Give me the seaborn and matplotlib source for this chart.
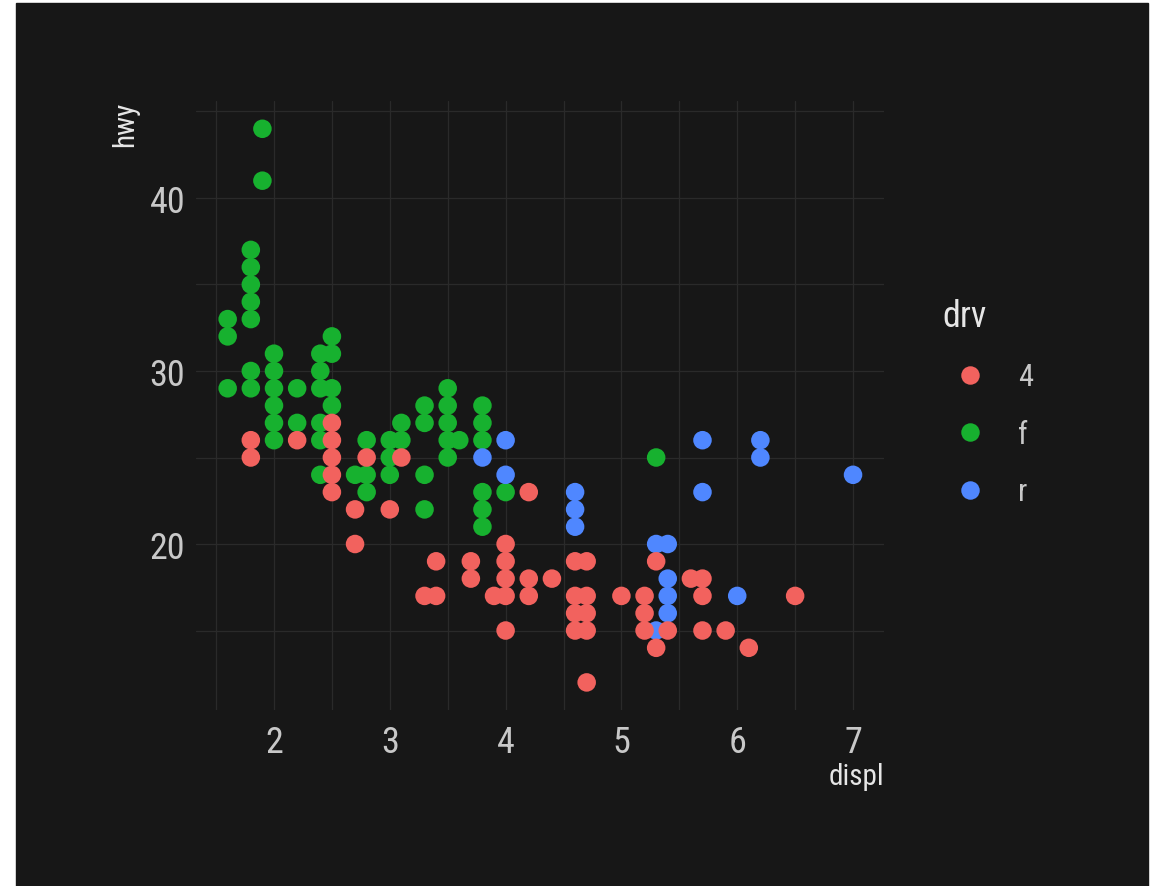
"""
Scatter of engine displacement vs highway mileage, coloured by drive train,
on a dark hrbrthemes-like background.
"""
import matplotlib
matplotlib.use("Agg")
import matplotlib.pyplot as plt
from matplotlib.lines import Line2D
from matplotlib.patches import Rectangle
import pandas as pd
import seaborn as sns

# front-wheel drive (f)
displ_f = [1.6, 1.6, 1.6, 1.8, 1.8, 1.8, 1.8, 1.8, 1.8, 1.8, 1.9, 1.9,
           2.0, 2.0, 2.0, 2.0, 2.0, 2.0, 2.2, 2.2,
           2.4, 2.4, 2.4, 2.4, 2.4, 2.4, 2.5, 2.5, 2.5, 2.5,
           2.7, 2.8, 2.8, 2.8, 3.0, 3.0, 3.0, 3.1, 3.1,
           3.3, 3.3, 3.3, 3.3, 3.5, 3.5, 3.5, 3.5, 3.5, 3.6,
           3.8, 3.8, 3.8, 3.8, 3.8, 3.8, 4.0, 5.3]
hwy_f = [33, 32, 29, 37, 36, 35, 34, 33, 30, 29, 44, 41,
         31, 30, 29, 28, 27, 26, 29, 27,
         31, 30, 29, 27, 26, 24, 32, 31, 29, 28,
         24, 26, 24, 23, 26, 25, 24, 27, 26,
         28, 27, 24, 22, 29, 28, 27, 26, 25, 26,
         28, 27, 26, 23, 22, 21, 23, 25]

# rear-wheel drive (r)
displ_r = [3.8, 4.0, 4.0, 4.6, 4.6, 4.6, 5.3, 5.3, 5.4, 5.4, 5.4, 5.4,
           5.7, 5.7, 6.0, 6.2, 6.2, 7.0]
hwy_r = [25, 26, 24, 23, 22, 21, 20, 15, 20, 18, 17, 16,
         26, 23, 17, 26, 25, 24]

# four-wheel drive (4)
displ_4 = [1.8, 1.8, 2.2, 2.5, 2.5, 2.5, 2.5, 2.5, 2.7, 2.7, 2.8, 3.0, 3.1,
           3.3, 3.4, 3.4, 3.7, 3.7, 3.9, 4.0, 4.0, 4.0, 4.0, 4.0,
           4.2, 4.2, 4.2, 4.4, 4.6, 4.6, 4.6, 4.6, 4.7, 4.7, 4.7, 4.7, 4.7,
           5.0, 5.2, 5.2, 5.2, 5.3, 5.3, 5.4,
           5.6, 5.7, 5.7, 5.7, 5.9, 6.1, 6.5]
hwy_4 = [26, 25, 26, 27, 26, 25, 24, 23, 22, 20, 25, 22, 25,
         17, 19, 17, 19, 18, 17, 20, 19, 18, 17, 15,
         23, 18, 17, 18, 19, 17, 16, 15, 19, 17, 16, 15, 12,
         17, 17, 16, 15, 19, 14, 15,
         18, 18, 17, 15, 15, 14, 17]

drv_levels = ["4", "f", "r"]
drv_colors = {"4": "#F2625E", "f": "#17B12F", "r": "#4F87FF"}

# draw order: f, r, then 4 on top
df = pd.concat([
    pd.DataFrame({"displ": displ_f, "hwy": hwy_f, "drv": "f"}),
    pd.DataFrame({"displ": displ_r, "hwy": hwy_r, "drv": "r"}),
    pd.DataFrame({"displ": displ_4, "hwy": hwy_4, "drv": "4"}),
], ignore_index=True)

BG = "#171717"
GRID = "#2a2a2a"
TICK_COL = "#c8c8c8"
TITLE_COL = "#e6e6e6"

sns.set_theme(style="dark")
plt.rcParams["font.family"] = ["Roboto Condensed", "Roboto", "DejaVu Sans"]

W, H = 1157, 887
fig = plt.figure(figsize=(W / 100, H / 100), dpi=100, facecolor="white")
fig.patches.append(Rectangle((16 / W, 0), (1148 - 16) / W, (887 - 4) / H,
                             transform=fig.transFigure, color=BG, zorder=-10))

left, right, top, bottom = 196.4, 884.3, 102.1, 711.1
ax = fig.add_axes([left / W, (H - bottom) / H, (right - left) / W, (bottom - top) / H])
ax.set_facecolor(BG)

sns.scatterplot(data=df, x="displ", y="hwy", hue="drv", palette=drv_colors,
                s=178, linewidth=0, alpha=1, legend=False, ax=ax, zorder=3)

ax.set_xlim(1.33, 7.27)
ax.set_ylim(10.4, 45.6)
ax.set_xticks([2, 3, 4, 5, 6, 7])
ax.set_yticks([20, 30, 40])
ax.set_xticks([1.5, 2.5, 3.5, 4.5, 5.5, 6.5], minor=True)
ax.set_yticks([15, 25, 35, 45], minor=True)
ax.grid(True, which="both", color=GRID, linewidth=0.9)
ax.set_axisbelow(True)
for sp in ax.spines.values():
    sp.set_visible(False)
ax.tick_params(which="both", length=0)
ax.tick_params(axis="x", pad=10, labelsize=26, labelcolor=TICK_COL)
ax.tick_params(axis="y", pad=8, labelsize=26, labelcolor=TICK_COL)

ax.set_xlabel("")
ax.set_ylabel("")
fig.text(right / W, 1 - 777 / H, "displ", ha="right", va="center",
         fontsize=21, color=TITLE_COL)
fig.text(125 / W, 1 - top / H, "hwy", ha="center", va="top", rotation=90,
         fontsize=21, color=TITLE_COL)

handles = [Line2D([0], [0], marker="o", linestyle="", markersize=13.3,
                  markerfacecolor=drv_colors[k], markeredgewidth=0)
           for k in drv_levels]
leg = fig.legend(handles, drv_levels, title="drv", loc="upper left",
                 bbox_to_anchor=(942 / W, 1 - 299 / H), frameon=False,
                 fontsize=22, title_fontsize=26, borderpad=0, borderaxespad=0,
                 handlelength=1.8, handletextpad=0.69, labelspacing=0.93,
                 alignment="left")
for t in leg.get_texts():
    t.set_color(TICK_COL)
leg.get_title().set_color(TITLE_COL)

fig.savefig("out.png", dpi=100, facecolor="white")
